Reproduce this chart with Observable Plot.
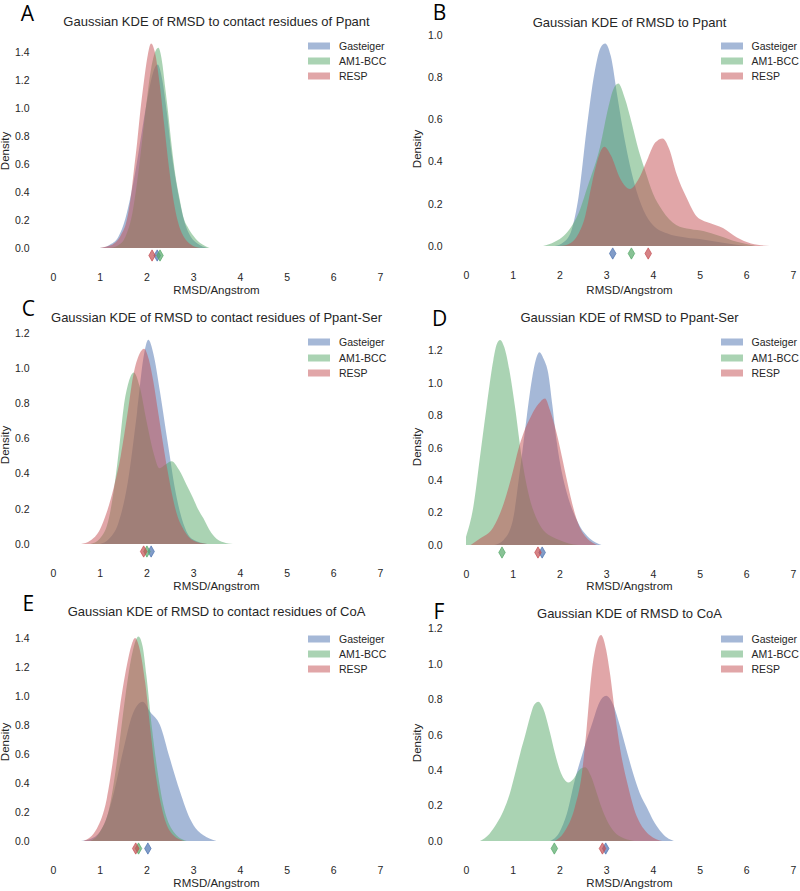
<!DOCTYPE html>
<html><head><meta charset="utf-8">
<script src="https://cdn.jsdelivr.net/npm/d3@7"></script>
<script src="https://cdn.jsdelivr.net/npm/@observablehq/plot@0.6"></script>
<style>
html,body{margin:0;padding:0;background:#fff;}
body{width:800px;height:891px;overflow:hidden;position:relative;font-family:"Liberation Sans",Arial,sans-serif;color:#262626;}
.panel{position:absolute;width:400px;}
.lbl{position:absolute;white-space:nowrap;line-height:1.2;transform:translate(-50%,-50%);}
.title{font-size:13px;}
.letter{font-family:"Open Sans",sans-serif;font-size:21px;line-height:0.8;color:#000;}
.axlab{font-size:11.5px;}
.ylab{transform:translate(-50%,-50%) rotate(-90deg);}
.leg{position:absolute;font-size:10.5px;line-height:1.2;white-space:nowrap;transform:translateY(-50%);}
.sw{position:absolute;width:22px;height:7px;transform:translateY(-50%);}
</style></head><body>
<script>
// ---------- data ----------
const series = ["Gasteiger", "AM1-BCC", "RESP"];
const colors = ["#4C72B0", "#55A868", "#C44E52"];
const xTicks = [0, 1, 2, 3, 4, 5, 6, 7];
const xLabel = "RMSD/Angstrom";
const yLabel = "Density";
const letters = ["A", "B", "C", "D", "E", "F"];
const titles = [
  "Gaussian KDE of RMSD to contact residues of Ppant",
  "Gaussian KDE of RMSD to Ppant",
  "Gaussian KDE of RMSD to contact residues of Ppant-Ser",
  "Gaussian KDE of RMSD to Ppant-Ser",
  "Gaussian KDE of RMSD to contact residues of CoA",
  "Gaussian KDE of RMSD to CoA"
];
const yTicksA = [0, 0.2, 0.4, 0.6, 0.8, 1.0, 1.2, 1.4];
const yTicksB = [0, 0.2, 0.4, 0.6, 0.8, 1.0];
const yTicksC = [0, 0.2, 0.4, 0.6, 0.8, 1.0, 1.2];
const yTicksD = [0, 0.2, 0.4, 0.6, 0.8, 1.0, 1.2];
const yTicksE = [0, 0.2, 0.4, 0.6, 0.8, 1.0, 1.2, 1.4];
const yTicksF = [0, 0.2, 0.4, 0.6, 0.8, 1.0, 1.2];

// Panel A
const A_gasteiger = [[1.0,0],[1.2,0.02],[1.4,0.08],[1.55,0.21],[1.68,0.4],[1.8,0.62],[1.92,0.87],[2.04,1.1],[2.14,1.25],[2.24,1.31],[2.34,1.2],[2.44,0.96],[2.53,0.7],[2.62,0.5],[2.72,0.32],[2.82,0.18],[2.95,0.08],[3.1,0.03],[3.3,0]];
const A_am1bcc = [[1.2,0],[1.4,0.02],[1.55,0.08],[1.7,0.25],[1.85,0.6],[1.98,0.98],[2.1,1.28],[2.2,1.41],[2.255,1.43],[2.33,1.34],[2.4,1.15],[2.45,1.01],[2.54,0.73],[2.62,0.52],[2.7,0.37],[2.8,0.21],[2.9,0.14],[3.0,0.09],[3.1,0.05],[3.2,0.025],[3.35,0]];
const A_resp = [[1.0,0],[1.15,0.01],[1.3,0.03],[1.45,0.09],[1.58,0.2],[1.66,0.35],[1.73,0.55],[1.8,0.75],[1.87,0.98],[1.95,1.2],[2.03,1.38],[2.1,1.46],[2.18,1.4],[2.28,1.18],[2.38,0.88],[2.48,0.58],[2.58,0.34],[2.68,0.18],[2.8,0.08],[2.95,0.025],[3.15,0]];
const A_means = [2.22, 2.28, 2.11];

// Panel B
const B_gasteiger = [[1.9,0],[2.1,0.02],[2.26,0.076],[2.41,0.234],[2.58,0.55],[2.75,0.82],[2.88,0.94],[2.98,0.96],[3.1,0.9],[3.24,0.71],[3.4,0.5],[3.6,0.3],[3.8,0.17],[4.0,0.1],[4.3,0.06],[4.7,0.04],[5.1,0.03],[5.5,0.015],[6.0,0]];
const B_am1bcc = [[1.65,0],[1.9,0.02],[2.1,0.05],[2.25,0.09],[2.4,0.15],[2.6,0.28],[2.87,0.47],[3.05,0.66],[3.15,0.74],[3.26,0.77],[3.4,0.7],[3.55,0.58],[3.7,0.45],[3.83,0.36],[4.0,0.25],[4.2,0.17],[4.5,0.1],[4.8,0.08],[5.1,0.07],[5.4,0.05],[5.8,0.02],[6.2,0]];
const B_resp = [[2.0,0],[2.2,0.01],[2.37,0.044],[2.55,0.14],[2.7,0.3],[2.85,0.43],[2.96,0.47],[3.1,0.43],[3.3,0.32],[3.51,0.27],[3.7,0.32],[3.9,0.42],[4.05,0.49],[4.21,0.51],[4.35,0.46],[4.51,0.34],[4.72,0.23],[4.94,0.14],[5.2,0.11],[5.5,0.085],[5.8,0.04],[6.1,0.012],[6.5,0]];
const B_means = [3.13, 3.53, 3.89];

// Panel C
const C_gasteiger = [[1.0,0],[1.2,0.03],[1.4,0.12],[1.6,0.35],[1.8,0.75],[1.95,1.08],[2.04,1.16],[2.15,1.08],[2.29,0.865],[2.43,0.62],[2.5,0.5],[2.6,0.33],[2.72,0.18],[2.86,0.07],[3.0,0.025],[3.3,0]];
const C_am1bcc = [[0.8,0],[1.0,0.03],[1.2,0.15],[1.35,0.4],[1.43,0.58],[1.51,0.77],[1.62,0.92],[1.73,0.975],[1.85,0.9],[2.0,0.7],[2.15,0.52],[2.28,0.43],[2.4,0.45],[2.54,0.47],[2.7,0.42],[2.86,0.335],[3.0,0.26],[3.1,0.2],[3.22,0.146],[3.35,0.08],[3.5,0.03],[3.65,0.01],[3.85,0]];
const C_resp = [[0.6,0],[0.8,0.02],[1.0,0.08],[1.15,0.18],[1.3,0.32],[1.45,0.5],[1.6,0.75],[1.72,0.96],[1.85,1.08],[1.95,1.11],[2.05,1.05],[2.15,0.92],[2.25,0.75],[2.35,0.58],[2.45,0.42],[2.55,0.28],[2.65,0.17],[2.8,0.08],[3.0,0.02],[3.3,0]];
const C_means = [2.09, 2.0, 1.93];

// Panel D
const D_gasteiger = [[0.6,0],[0.8,0.03],[1.0,0.15],[1.15,0.45],[1.3,0.79],[1.41,1.02],[1.5,1.15],[1.57,1.19],[1.66,1.15],[1.76,1.06],[1.85,0.86],[1.94,0.64],[2.05,0.45],[2.16,0.32],[2.3,0.2],[2.45,0.11],[2.58,0.06],[2.72,0.025],[2.9,0]];
const D_am1bcc = [[0.0,0.05],[0.16,0.24],[0.3,0.545],[0.44,0.85],[0.585,1.14],[0.66,1.24],[0.73,1.265],[0.82,1.22],[0.94,1.06],[1.05,0.85],[1.19,0.545],[1.37,0.28],[1.5,0.17],[1.66,0.09],[1.85,0.05],[2.01,0.03],[2.2,0.01],[2.4,0]];
const D_resp = [[0.1,0],[0.3,0.04],[0.585,0.11],[0.8,0.25],[1.0,0.45],[1.12,0.59],[1.23,0.69],[1.4,0.8],[1.55,0.87],[1.69,0.905],[1.8,0.83],[1.94,0.69],[2.05,0.55],[2.16,0.4],[2.33,0.195],[2.45,0.1],[2.58,0.045],[2.7,0.015],[2.8,0]];
const D_means = [1.62, 0.76, 1.53];

// Panel E
const E_gasteiger = [[0.6,0],[0.9,0.03],[1.1,0.12],[1.3,0.33],[1.5,0.62],[1.7,0.87],[1.92,0.96],[2.08,0.89],[2.29,0.8],[2.5,0.57],[2.72,0.34],[2.93,0.156],[3.1,0.07],[3.22,0.04],[3.5,0]];
const E_am1bcc = [[0.8,0],[1.0,0.06],[1.2,0.22],[1.4,0.62],[1.55,1.0],[1.7,1.3],[1.83,1.41],[1.92,1.34],[2.0,1.14],[2.11,0.8],[2.22,0.52],[2.36,0.25],[2.58,0.064],[2.86,0]];
const E_resp = [[0.65,0],[0.94,0.087],[1.15,0.29],[1.29,0.57],[1.43,0.915],[1.58,1.21],[1.68,1.35],[1.756,1.40],[1.85,1.33],[1.97,1.1],[2.08,0.78],[2.18,0.5],[2.32,0.24],[2.52,0.06],[2.8,0]];
const E_means = [2.02, 1.82, 1.76];

// Panel F
const F_gasteiger = [[1.8,0],[2.0,0.05],[2.16,0.156],[2.33,0.345],[2.5,0.5],[2.72,0.68],[2.85,0.78],[3.0,0.82],[3.15,0.77],[3.3,0.645],[3.45,0.5],[3.58,0.38],[3.72,0.27],[3.87,0.19],[4.0,0.12],[4.15,0.06],[4.3,0.02],[4.45,0]];
const F_am1bcc = [[0.3,0],[0.5,0.04],[0.66,0.1],[0.8,0.17],[0.94,0.27],[1.05,0.38],[1.16,0.495],[1.27,0.6],[1.37,0.7],[1.46,0.77],[1.55,0.787],[1.65,0.75],[1.8,0.61],[1.9,0.5],[2.01,0.4],[2.1,0.35],[2.19,0.33],[2.3,0.35],[2.42,0.4],[2.55,0.416],[2.67,0.37],[2.8,0.27],[2.9,0.19],[3.01,0.12],[3.15,0.06],[3.3,0.025],[3.6,0]];
const F_resp = [[1.9,0],[2.1,0.05],[2.33,0.19],[2.48,0.38],[2.58,0.627],[2.69,0.95],[2.8,1.12],[2.89,1.164],[3.0,1.08],[3.08,0.95],[3.19,0.72],[3.3,0.52],[3.45,0.33],[3.6,0.18],[3.8,0.07],[4.0,0.02],[4.2,0]];
const F_means = [2.98, 1.88, 2.91];

const panelData = [
  {curves: [A_gasteiger, A_am1bcc, A_resp], means: A_means, yTicks: yTicksA},
  {curves: [B_gasteiger, B_am1bcc, B_resp], means: B_means, yTicks: yTicksB},
  {curves: [C_gasteiger, C_am1bcc, C_resp], means: C_means, yTicks: yTicksC},
  {curves: [D_gasteiger, D_am1bcc, D_resp], means: D_means, yTicks: yTicksD},
  {curves: [E_gasteiger, E_am1bcc, E_resp], means: E_means, yTicks: yTicksE},
  {curves: [F_gasteiger, F_am1bcc, F_resp], means: F_means, yTicks: yTicksF}
];

// ---------- layout (page pixels) ----------
const layout = [
  {left:0,   top:0,   h:290, x0:53,  x7:380, zero:248, per:140, ymax:1.5,  title:[216.5,22],   letter:[27.5,12.5], xlab:[216.5,291], ylab:[6,151],     legX:308,   legY:[46,61,76]},
  {left:400, top:0,   h:290, x0:466, x7:793, zero:246, per:211, ymax:1.05, title:[629.5,22.5], letter:[439.5,12],  xlab:[629.5,291], ylab:[418,149],   legX:720.5, legY:[46,61,76]},
  {left:0,   top:290, h:290, x0:53,  x7:380, zero:544, per:176, ymax:1.25, title:[216.5,318.3],letter:[28.3,307.5],xlab:[216.5,587], ylab:[6,445],     legX:308,   legY:[342.3,357.7,372.7]},
  {left:400, top:290, h:290, x0:466, x7:793, zero:545, per:162, ymax:1.3,  title:[629.5,318.3],letter:[439.7,317.5],xlab:[629.5,587], ylab:[418,446.7], legX:720.5, legY:[342.3,357.7,372.7]},
  {left:0,   top:580, h:311, x0:53,  x7:380, zero:841, per:145, ymax:1.5,  title:[216.5,611.7],letter:[28.3,603.3],xlab:[216.5,884], ylab:[6,741.7],   legX:308,   legY:[639,654,669]},
  {left:400, top:580, h:311, x0:466, x7:793, zero:841, per:177, ymax:1.25, title:[629.5,614.3],letter:[439,611],   xlab:[629.5,884], ylab:[418,743.3], legX:720.5, legY:[639,654,669]}
];

const thinDiamond = {
  draw(context, size) {
    const r = Math.sqrt(size / Math.PI);
    context.moveTo(0, -1.25 * r);
    context.lineTo(0.72 * r, 0);
    context.lineTo(0, 1.25 * r);
    context.lineTo(-0.72 * r, 0);
    context.closePath();
  }
};

function rgba(hex, a) {
  const c = d3.color(hex); c.opacity = a; return c.toString();
}

function addLabel(text, cls, [x, y]) {
  const d = document.createElement("div");
  d.className = "lbl " + cls;
  d.textContent = text;
  d.style.left = x + "px";
  d.style.top = y + "px";
  document.body.appendChild(d);
}

panelData.forEach((p, k) => {
  const L = layout[k];
  const rows = [];
  p.curves.forEach((pts, i) => pts.forEach(([x, y]) => rows.push({series: series[i], x, y})));
  const meanRows = p.means.map((m, i) => ({series: series[i], x: m}));
  const plot = Plot.plot({
    width: 400,
    height: L.h,
    marginLeft: L.x0 - L.left,
    marginRight: L.left + 400 - L.x7,
    marginTop: L.zero - L.ymax * L.per - L.top,
    marginBottom: L.top + L.h - L.zero,
    style: {fontFamily: '"Liberation Sans", Arial, sans-serif', fontSize: "10.5px", color: "#262626", background: "transparent", overflow: "visible"},
    x: {domain: [0, 7], ticks: xTicks, tickFormat: d3.format("d"), tickSize: 0, tickPadding: 25, label: null},
    y: {domain: [0, L.ymax], ticks: p.yTicks, tickFormat: d3.format(".1f"), tickSize: 0, tickPadding: 24, label: null},
    color: {domain: series, range: colors},
    marks: [
      Plot.area(rows, {x1: "x", y1: () => 0, y2: "y", z: "series", fill: "series", fillOpacity: 0.5, curve: "monotone-x"}),
      Plot.dot(meanRows, {x: "x", y: () => 0, dy: 7, r: 4.5, symbol: thinDiamond, fill: "series", fillOpacity: 0.7, stroke: "series", strokeOpacity: 0.9, strokeWidth: 0.8})
    ]
  });
  const wrap = document.createElement("div");
  wrap.className = "panel";
  wrap.style.left = L.left + "px";
  wrap.style.top = L.top + "px";
  wrap.appendChild(plot);
  document.body.appendChild(wrap);

  addLabel(titles[k], "title", L.title);
  addLabel(letters[k], "letter", L.letter);
  addLabel(xLabel, "axlab", L.xlab);
  addLabel(yLabel, "axlab ylab", L.ylab);

  series.forEach((s, i) => {
    const sw = document.createElement("div");
    sw.className = "sw";
    sw.style.left = L.legX + "px";
    sw.style.top = L.legY[i] + "px";
    sw.style.background = rgba(colors[i], 0.5);
    document.body.appendChild(sw);
    const t = document.createElement("div");
    t.className = "leg";
    t.textContent = s;
    t.style.left = (L.legX + 31) + "px";
    t.style.top = L.legY[i] + "px";
    document.body.appendChild(t);
  });
});
</script>
</body></html>
